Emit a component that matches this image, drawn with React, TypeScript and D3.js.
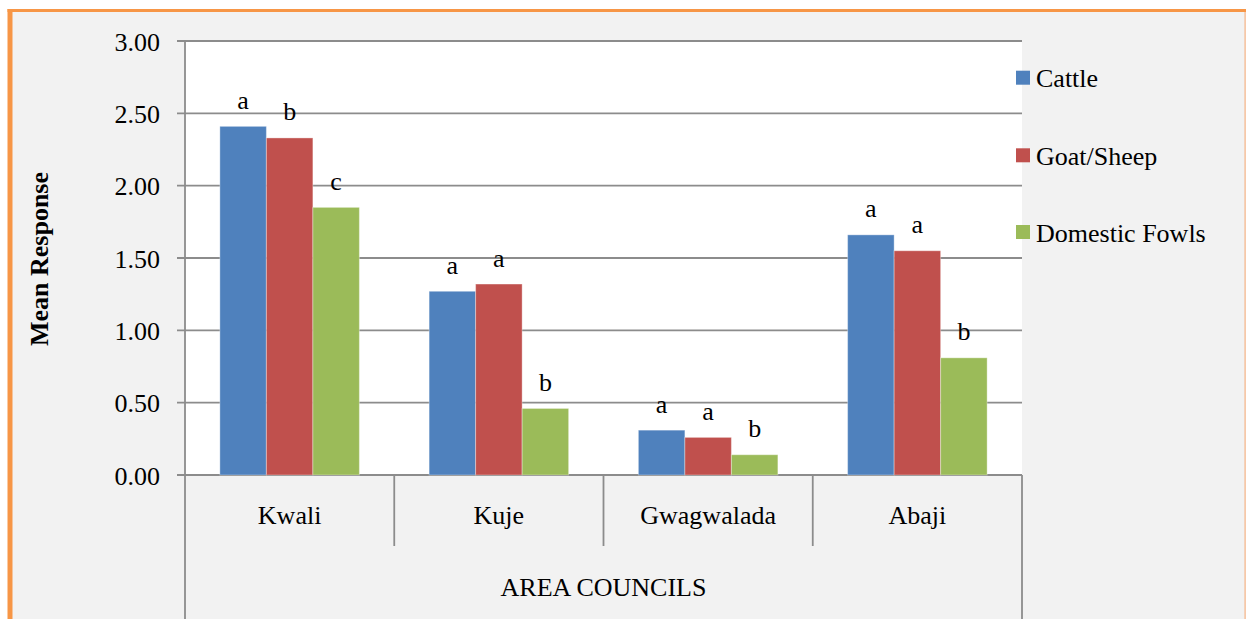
import React from "react";
import * as d3 from "d3";

const categories = ["Kwali", "Kuje", "Gwagwalada", "Abaji"];
const seriesNames = ["Cattle", "Goat/Sheep", "Domestic Fowls"];
const seriesColors = ["#4f81bd", "#c0504d", "#9bbb59"];
const cattle = [2.41, 1.27, 0.31, 1.66];
const goatSheep = [2.33, 1.32, 0.26, 1.55];
const domesticFowls = [1.85, 0.46, 0.14, 0.81];
const cattleLetters = ["a", "a", "a", "a"];
const goatLetters = ["b", "a", "a", "a"];
const fowlLetters = ["c", "b", "b", "b"];
const yTicks = [0, 0.5, 1.0, 1.5, 2.0, 2.5, 3.0];

const W = 1246;
const H = 619;
const FONT = "'Liberation Serif', 'Times New Roman', Times, serif";

export default function App() {
  const left = 185;
  const right = 1022;
  const top = 41;
  const bottom = 475;

  const x0 = d3.scaleBand<string>().domain(categories).range([left, right]).paddingInner(0).paddingOuter(0);
  const x1 = d3
    .scaleBand<string>()
    .domain(seriesNames)
    .range([0, x0.bandwidth()])
    .paddingInner(0)
    .paddingOuter(0.75);
  const y = d3.scaleLinear().domain([0, 3]).range([bottom, top]);

  const values = [cattle, goatSheep, domesticFowls];
  const letters = [cattleLetters, goatLetters, fowlLetters];
  const gridColor = "#8c8c8c";
  const fmt = d3.format(".2f");

  const boundaries = categories.map((c) => x0(c) as number).concat([right]);

  return (
    <svg
      width={W}
      height={H}
      style={{ position: "absolute", left: 0, top: 0, display: "block" }}
      fontFamily={FONT}
    >
      <rect x={0} y={0} width={W} height={H} fill="#ffffff" />
      <rect x={12} y={12} width={W - 13} height={H - 12} fill="#f2f2f2" />
      {/* orange frame */}
      <rect x={7.5} y={9} width={W - 7.5} height={3} fill="#f79646" />
      <rect x={7.5} y={9} width={5} height={H - 9} fill="#f79646" />
      <rect x={W - 1.5} y={12} width={1.2} height={H - 12} fill="#f4b183" />

      {/* plot area */}
      <rect x={left} y={top} width={right - left} height={bottom - top} fill="#ffffff" />

      {/* gridlines + ticks */}
      {yTicks.map((t) => (
        <g key={t}>
          <line x1={177} x2={right} y1={y(t)} y2={y(t)} stroke={gridColor} strokeWidth={1.8} />
          <text x={160} y={y(t) + 9.5} textAnchor="end" fontSize={26} fill="#000">
            {fmt(t)}
          </text>
        </g>
      ))}

      {/* bars */}
      {categories.map((c, ci) => (
        <g key={c} transform={`translate(${x0(c)},0)`}>
          {seriesNames.map((s, si) => {
            const v = values[si][ci];
            const bx = x1(s) as number;
            return (
              <g key={s}>
                <rect
                  x={bx}
                  y={y(v)}
                  width={x1.bandwidth()}
                  height={bottom - y(v)}
                  fill={seriesColors[si]}
                  stroke="#ffffff"
                  strokeOpacity={0.35}
                  strokeWidth={1}
                />
                <text
                  x={bx + x1.bandwidth() / 2}
                  y={y(v) - 17.5}
                  textAnchor="middle"
                  fontSize={26}
                  fill="#000"
                >
                  {letters[si][ci]}
                </text>
              </g>
            );
          })}
        </g>
      ))}

      {/* axes */}
      <line x1={left} x2={left} y1={top} y2={H} stroke={gridColor} strokeWidth={1.8} />
      <line x1={right} x2={right} y1={bottom} y2={H} stroke={gridColor} strokeWidth={1.8} />
      {boundaries.slice(1, -1).map((bx, i) => (
        <line key={i} x1={bx} x2={bx} y1={bottom} y2={546} stroke={gridColor} strokeWidth={1.8} />
      ))}

      {/* category labels */}
      {categories.map((c) => (
        <text
          key={c}
          x={(x0(c) as number) + x0.bandwidth() / 2}
          y={524}
          textAnchor="middle"
          fontSize={26}
          fill="#000"
        >
          {c}
        </text>
      ))}
      <text x={(left + right) / 2} y={596} textAnchor="middle" fontSize={26} fill="#000">
        AREA COUNCILS
      </text>

      {/* y title */}
      <text
        transform={`translate(48,259) rotate(-90)`}
        textAnchor="middle"
        fontSize={26}
        fontWeight="bold"
        fill="#000"
      >
        Mean Response
      </text>

      {/* legend */}
      {seriesNames.map((s, i) => {
        const cy = [77.7, 155.3, 232][i];
        return (
          <g key={s}>
            <rect x={1016} y={cy - 7} width={14} height={14} fill={seriesColors[i]} />
            <text x={1036} y={cy + 9.5} fontSize={26} fill="#000">
              {s}
            </text>
          </g>
        );
      })}
    </svg>
  );
}
